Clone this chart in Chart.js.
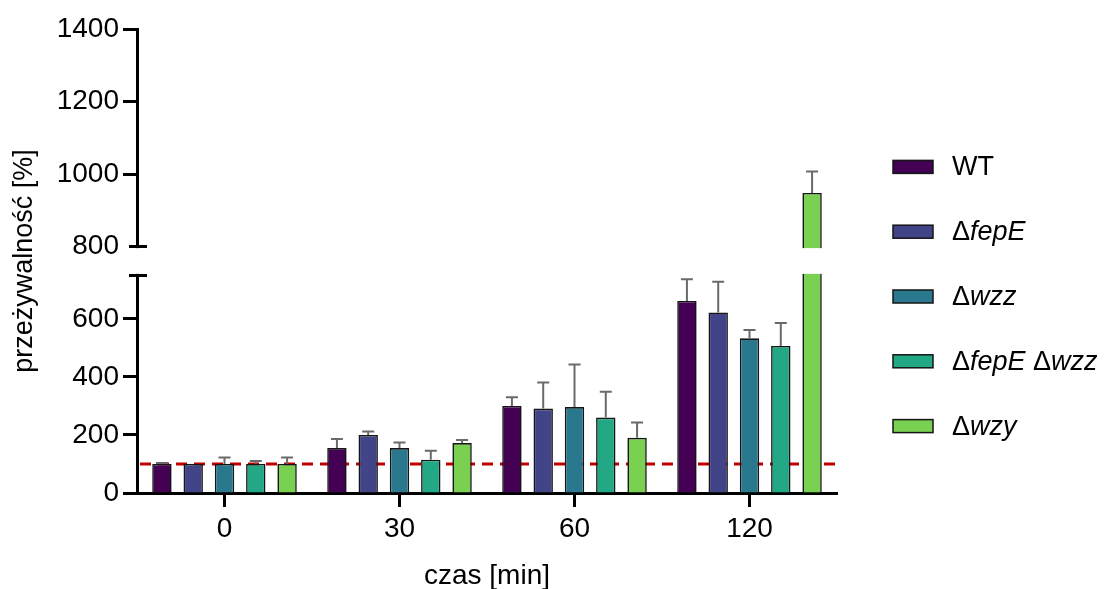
<!DOCTYPE html>
<html>
<head>
<meta charset="utf-8">
<script src="https://cdn.jsdelivr.net/npm/chart.js@4.4.1/dist/chart.umd.min.js"></script>
<style>
  html, body { margin: 0; padding: 0; background: #fff; }
  #wrap { width: 1104px; height: 589px; }
</style>
</head>
<body>
<div id="wrap"><canvas id="survChart"></canvas></div>
<script>
const timePoints = ['0', '30', '60', '120'];
const strainNames = ['WT', 'ΔfepE', 'Δwzz', 'ΔfepE Δwzz', 'Δwzy'];
const strainColors = ['#440154', '#414487', '#2a788e', '#22a884', '#7ad151'];

// mean survival [%] per time point
const survWT = [100, 155, 300, 662];
const survFepE = [100, 200, 291, 622];
const survWzz = [100, 155, 296, 533];
const survFepEWzz = [100, 115, 260, 507];
const survWzy = [100, 172, 190, 948];

// upper error (SD)
const errWT = [3, 31, 30, 75];
const errFepE = [0, 12, 90, 106];
const errWzz = [22, 19, 147, 29];
const errFepEWzz = [10, 31, 89, 79];
const errWzy = [22, 11, 53, 59];

const yTickValues = [0, 200, 400, 600, 800, 1000, 1200, 1400];
const controlLevel = 100;

// broken y axis: 0-750 below the break, 800-1400 above it
const lowerMax = 750;
const upperMin = 800;
const axisMax = 1400;
const LOWER_PART = 0.469;
const UPPER_START = 0.531;

const FONT = '"Liberation Sans", Arial, sans-serif';
Chart.defaults.font.family = FONT;
Chart.defaults.color = '#000';

function valueToDecimal(v) {
    if (v <= lowerMax) return v / lowerMax * LOWER_PART;
    if (v >= upperMin) return UPPER_START + (v - upperMin) / (axisMax - upperMin) * (1 - UPPER_START);
    return LOWER_PART + (v - lowerMax) / (upperMin - lowerMax) * (UPPER_START - LOWER_PART);
}

function decimalToValue(d) {
    if (d <= LOWER_PART) return d / LOWER_PART * lowerMax;
    if (d >= UPPER_START) return upperMin + (d - UPPER_START) / (1 - UPPER_START) * (axisMax - upperMin);
    return lowerMax + (d - LOWER_PART) / (UPPER_START - LOWER_PART) * (upperMin - lowerMax);
}

class BrokenLinearScale extends Chart.LinearScale {
    static id = 'brokenLinear';
    static defaults = {};

    getPixelForValue(value) {
        if (value === null || isNaN(value)) return NaN;
        return this.getPixelForDecimal(valueToDecimal(value));
    }

    getValueForPixel(pixel) {
        return decimalToValue(this.getDecimalForPixel(pixel));
    }
}
Chart.register(BrokenLinearScale);

const seriesValues = [survWT, survFepE, survWzz, survFepEWzz, survWzy];
const seriesErrors = [errWT, errFepE, errWzz, errFepEWzz, errWzy];

const datasets = strainNames.map((name, i) => ({
    label: name,
    data: seriesValues[i],
    errors: seriesErrors[i],
    backgroundColor: strainColors[i],
    borderColor: '#151515',
    borderWidth: 1.6,
    categoryPercentage: 0.894,
    barPercentage: 0.62
}));

// dashed 100% reference line, behind the bars
const controlLine = {
    id: 'controlLine',
    beforeDatasetsDraw(chart) {
        const { ctx, chartArea, scales } = chart;
        const y = scales.y.getPixelForValue(controlLevel);
        ctx.save();
        ctx.strokeStyle = '#c00000';
        ctx.lineWidth = 3;
        ctx.setLineDash([11, 7]);
        ctx.beginPath();
        ctx.moveTo(chartArea.left + 3, y);
        ctx.lineTo(chartArea.right, y);
        ctx.stroke();
        ctx.restore();
    }
};

// upper error bars
const errorBars = {
    id: 'errorBars',
    afterDatasetsDraw(chart) {
        const { ctx, scales } = chart;
        ctx.save();
        ctx.strokeStyle = '#6a6a6a';
        ctx.lineWidth = 2;
        chart.data.datasets.forEach((ds, i) => {
            const meta = chart.getDatasetMeta(i);
            meta.data.forEach((bar, j) => {
                const e = ds.errors[j];
                if (!e) return;
                const top = scales.y.getPixelForValue(ds.data[j] + e);
                ctx.beginPath();
                ctx.moveTo(bar.x, bar.y);
                ctx.lineTo(bar.x, top);
                ctx.moveTo(bar.x - 6, top);
                ctx.lineTo(bar.x + 6, top);
                ctx.stroke();
            });
        });
        ctx.restore();
    }
};

// blank out the gap between the two axis segments and draw the end caps
const axisBreak = {
    id: 'axisBreak',
    afterDraw(chart) {
        const { ctx, chartArea, scales } = chart;
        const yHi = scales.y.getPixelForValue(upperMin);
        const yLo = scales.y.getPixelForValue(lowerMax);
        const x = chartArea.left;
        ctx.save();
        ctx.fillStyle = '#fff';
        ctx.fillRect(x - 4, yHi + 1.5, chartArea.right - x + 8, yLo - yHi - 3);
        ctx.strokeStyle = '#000';
        ctx.lineWidth = 3;
        ctx.beginPath();
        ctx.moveTo(x - 8, yHi);
        ctx.lineTo(x + 10, yHi);
        ctx.moveTo(x - 8, yLo);
        ctx.lineTo(x + 10, yLo);
        ctx.stroke();
        ctx.restore();
    }
};

// legend on the right: upright Δ, italic gene names
const sideLegend = {
    id: 'sideLegend',
    afterDraw(chart) {
        const { ctx } = chart;
        const boxX = 893, boxW = 40, boxH = 13, textX = 952, pitch = 64.8;
        const startY = chart.height / 2 - pitch * 2 + 2;
        ctx.save();
        ctx.textBaseline = 'middle';
        chart.data.datasets.forEach((ds, i) => {
            const cy = startY + i * pitch;
            ctx.fillStyle = ds.backgroundColor;
            ctx.fillRect(boxX, cy - boxH / 2, boxW, boxH);
            ctx.strokeStyle = '#151515';
            ctx.lineWidth = 1.5;
            ctx.strokeRect(boxX, cy - boxH / 2, boxW, boxH);

            let x = textX;
            const tokens = ds.label.split(/(Δ|\s)/).filter(Boolean);
            let prev = '';
            ctx.fillStyle = '#000';
            tokens.forEach(tok => {
                const italic = prev === 'Δ';
                ctx.font = (italic ? 'italic ' : '') + '27px ' + FONT;
                ctx.fillText(tok, x, cy + 1);
                x += ctx.measureText(tok).width;
                prev = tok;
            });
        });
        ctx.restore();
    }
};

new Chart(document.getElementById('survChart'), {
    type: 'bar',
    data: { labels: timePoints, datasets: datasets },
    options: {
        responsive: true,
        maintainAspectRatio: false,
        animation: false,
        layout: { padding: { top: 29, right: 267, bottom: 0, left: 0 } },
        plugins: {
            legend: { display: false },
            tooltip: { enabled: false }
        },
        scales: {
            x: {
                ticks: { font: { size: 28 }, color: '#000', padding: 5 },
                grid: { offset: false, drawOnChartArea: false, tickLength: 14, tickWidth: 3, tickColor: '#000' },
                border: { width: 3, color: '#000' },
                title: { display: true, text: 'czas [min]', font: { size: 28, lineHeight: 0.9 }, color: '#000', padding: { top: 0, bottom: 0 } },
                afterFit: (scale) => { scale.height = 96; }
            },
            y: {
                type: 'brokenLinear',
                min: 0,
                max: axisMax,
                afterBuildTicks: (scale) => { scale.ticks = yTickValues.map(v => ({ value: v })); },
                ticks: { font: { size: 28 }, color: '#000', padding: 4, callback: (v) => String(v) },
                grid: {
                    drawOnChartArea: false,
                    tickLength: 14,
                    tickWidth: 3,
                    tickColor: (c) => (c.tick && c.tick.value === upperMin ? 'rgba(0,0,0,0)' : '#000')
                },
                border: { width: 3, color: '#000' },
                title: { display: true, text: 'przeżywalność [%]', font: { size: 27 }, color: '#000', padding: { top: 8, bottom: 0 } },
                afterFit: (scale) => { scale.width = 137; }
            }
        }
    },
    plugins: [controlLine, errorBars, axisBreak, sideLegend]
});
</script>
</body>
</html>
